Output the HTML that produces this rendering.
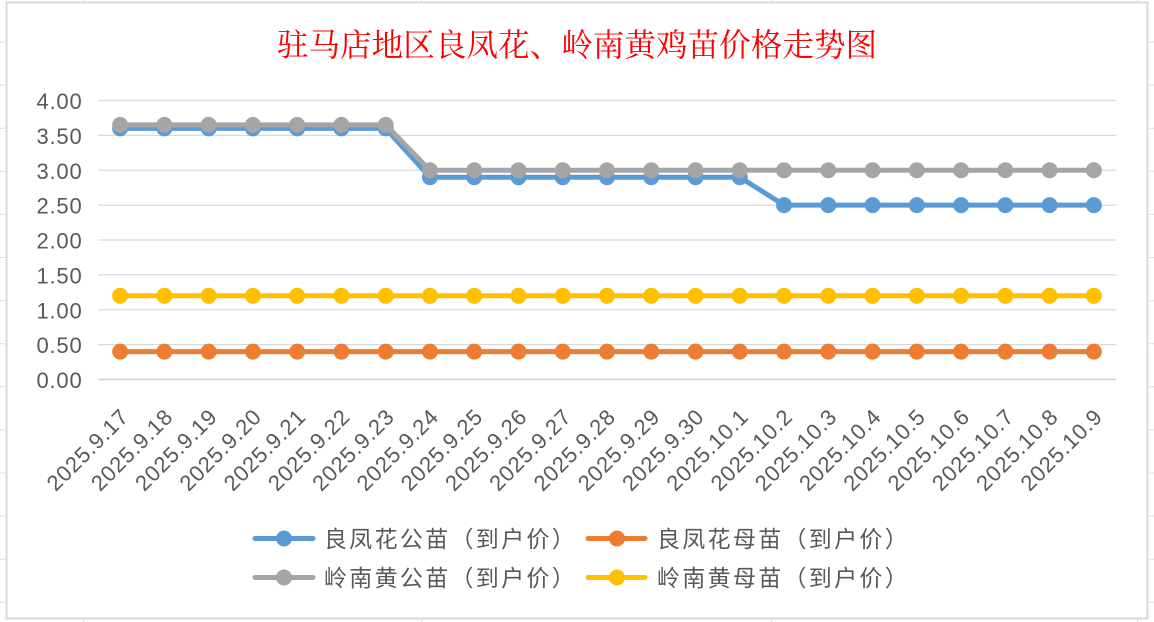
<!DOCTYPE html>
<html><head><meta charset="utf-8"><style>
html,body{margin:0;padding:0;background:#fff;}
svg{display:block;}
.ax{font-family:"Liberation Sans","Noto Sans CJK SC",sans-serif;font-size:22px;fill:#595959;letter-spacing:0.8px;}
.lg{font-family:"Liberation Sans","Noto Sans CJK SC",sans-serif;font-size:23px;fill:#595959;letter-spacing:2.3px;}
.tt{font-family:"Liberation Serif","Noto Serif CJK SC",serif;font-size:31.6px;fill:#FF0000;}
</style></head><body>
<svg width="1154" height="622" viewBox="0 0 1154 622" xmlns="http://www.w3.org/2000/svg">
<defs>
<marker id="mb" markerWidth="20" markerHeight="20" refX="10" refY="10" markerUnits="userSpaceOnUse"><circle cx="10" cy="10" r="8" fill="#5B9BD5"/></marker>
<marker id="mo" markerWidth="20" markerHeight="20" refX="10" refY="10" markerUnits="userSpaceOnUse"><circle cx="10" cy="10" r="8" fill="#ED7D31"/></marker>
<marker id="mg" markerWidth="20" markerHeight="20" refX="10" refY="10" markerUnits="userSpaceOnUse"><circle cx="10" cy="10" r="8" fill="#A5A5A5"/></marker>
<marker id="my" markerWidth="20" markerHeight="20" refX="10" refY="10" markerUnits="userSpaceOnUse"><circle cx="10" cy="10" r="8" fill="#FFC000"/></marker>
</defs>
<!-- spreadsheet grid remnants -->
<g stroke="#dedede" stroke-width="1">
<path d="M0 42H6M0 85.1H6M0 128.2H6M0 171.3H6M0 214.4H6M0 257.5H6M0 300.6H6M0 343.7H6M0 386.8H6M0 429.9H6M0 473H6M0 516.1H6M0 559.2H6M0 602.3H6"/>
<path d="M1149 42H1154M1149 85.1H1154M1149 128.2H1154M1149 171.3H1154M1149 214.4H1154M1149 257.5H1154M1149 300.6H1154M1149 343.7H1154M1149 386.8H1154M1149 429.9H1154M1149 473H1154M1149 516.1H1154M1149 559.2H1154M1149 602.3H1154"/>
<path d="M83.5 0V2M421.5 0V2M771.5 0V2M1137.5 0V2M83.5 620V622M421.5 620V622M771.5 620V622M1137.5 620V622"/>
</g>
<rect x="6.5" y="2.5" width="1141" height="616" fill="#fff" stroke="#d9d9d9" stroke-width="2"/>
<text class="tt" x="577" y="56" text-anchor="middle">驻马店地区良凤花、岭南黄鸡苗价格走势图</text>
<!-- gridlines -->
<g stroke="#d9d9d9" stroke-width="1.3">
<path d="M98 100.5H1116M98 135.4H1116M98 170.25H1116M98 205.1H1116M98 240H1116M98 274.9H1116M98 309.75H1116M98 344.6H1116"/>
</g>
<path d="M98 379.5H1116" stroke="#d0d0d0" stroke-width="1.6"/>
<!-- y labels -->
<g class="ax" text-anchor="end">
<text x="82.5" y="109">4.00</text>
<text x="82.5" y="143.9">3.50</text>
<text x="82.5" y="178.75">3.00</text>
<text x="82.5" y="213.6">2.50</text>
<text x="82.5" y="248.5">2.00</text>
<text x="82.5" y="283.4">1.50</text>
<text x="82.5" y="318.25">1.00</text>
<text x="82.5" y="353.1">0.50</text>
<text x="82.5" y="388">0.00</text>
</g>
<!-- x labels -->
<g class="ax" text-anchor="end">
<text transform="translate(130.1,418) rotate(-45)">2025.9.17</text>
<text transform="translate(174.4,418) rotate(-45)">2025.9.18</text>
<text transform="translate(218.6,418) rotate(-45)">2025.9.19</text>
<text transform="translate(262.9,418) rotate(-45)">2025.9.20</text>
<text transform="translate(307.2,418) rotate(-45)">2025.9.21</text>
<text transform="translate(351.4,418) rotate(-45)">2025.9.22</text>
<text transform="translate(395.7,418) rotate(-45)">2025.9.23</text>
<text transform="translate(440,418) rotate(-45)">2025.9.24</text>
<text transform="translate(484.2,418) rotate(-45)">2025.9.25</text>
<text transform="translate(528.5,418) rotate(-45)">2025.9.26</text>
<text transform="translate(572.7,418) rotate(-45)">2025.9.27</text>
<text transform="translate(617,418) rotate(-45)">2025.9.28</text>
<text transform="translate(661.3,418) rotate(-45)">2025.9.29</text>
<text transform="translate(705.5,418) rotate(-45)">2025.9.30</text>
<text transform="translate(749.8,418) rotate(-45)">2025.10.1</text>
<text transform="translate(794,418) rotate(-45)">2025.10.2</text>
<text transform="translate(838.3,418) rotate(-45)">2025.10.3</text>
<text transform="translate(882.6,418) rotate(-45)">2025.10.4</text>
<text transform="translate(926.8,418) rotate(-45)">2025.10.5</text>
<text transform="translate(971.1,418) rotate(-45)">2025.10.6</text>
<text transform="translate(1015.4,418) rotate(-45)">2025.10.7</text>
<text transform="translate(1059.6,418) rotate(-45)">2025.10.8</text>
<text transform="translate(1103.9,418) rotate(-45)">2025.10.9</text>
</g>
<!-- series -->
<g fill="none" stroke-width="5" stroke-linejoin="round">
<polyline stroke="#5B9BD5" marker-start="url(#mb)" marker-mid="url(#mb)" marker-end="url(#mb)" points="120.13,128.4 164.39,128.4 208.65,128.4 252.91,128.4 297.17,128.4 341.43,128.4 385.7,128.4 429.96,177.2 474.22,177.2 518.48,177.2 562.74,177.2 607,177.2 651.26,177.2 695.52,177.2 739.78,177.2 784.04,205.1 828.3,205.1 872.57,205.1 916.83,205.1 961.09,205.1 1005.35,205.1 1049.61,205.1 1093.87,205.1"/>
<polyline stroke="#ED7D31" marker-start="url(#mo)" marker-mid="url(#mo)" marker-end="url(#mo)" points="120.13,351.6 164.39,351.6 208.65,351.6 252.91,351.6 297.17,351.6 341.43,351.6 385.7,351.6 429.96,351.6 474.22,351.6 518.48,351.6 562.74,351.6 607,351.6 651.26,351.6 695.52,351.6 739.78,351.6 784.04,351.6 828.3,351.6 872.57,351.6 916.83,351.6 961.09,351.6 1005.35,351.6 1049.61,351.6 1093.87,351.6"/>
<polyline stroke="#A5A5A5" marker-start="url(#mg)" marker-mid="url(#mg)" marker-end="url(#mg)" points="120.13,124.9 164.39,124.9 208.65,124.9 252.91,124.9 297.17,124.9 341.43,124.9 385.7,124.9 429.96,170.25 474.22,170.25 518.48,170.25 562.74,170.25 607,170.25 651.26,170.25 695.52,170.25 739.78,170.25 784.04,170.25 828.3,170.25 872.57,170.25 916.83,170.25 961.09,170.25 1005.35,170.25 1049.61,170.25 1093.87,170.25"/>
<polyline stroke="#FFC000" marker-start="url(#my)" marker-mid="url(#my)" marker-end="url(#my)" points="120.13,295.8 164.39,295.8 208.65,295.8 252.91,295.8 297.17,295.8 341.43,295.8 385.7,295.8 429.96,295.8 474.22,295.8 518.48,295.8 562.74,295.8 607,295.8 651.26,295.8 695.52,295.8 739.78,295.8 784.04,295.8 828.3,295.8 872.57,295.8 916.83,295.8 961.09,295.8 1005.35,295.8 1049.61,295.8 1093.87,295.8"/>
</g>
<!-- legend -->
<g stroke-width="5" stroke-linecap="round">
<line x1="255" y1="538.5" x2="313" y2="538.5" stroke="#5B9BD5"/>
<line x1="588" y1="538.5" x2="645" y2="538.5" stroke="#ED7D31"/>
<line x1="255" y1="577.5" x2="313" y2="577.5" stroke="#A5A5A5"/>
<line x1="588" y1="577.5" x2="645" y2="577.5" stroke="#FFC000"/>
</g>
<circle cx="284" cy="538.5" r="8" fill="#5B9BD5"/>
<circle cx="617" cy="538.5" r="8" fill="#ED7D31"/>
<circle cx="284" cy="577.5" r="8" fill="#A5A5A5"/>
<circle cx="617" cy="577.5" r="8" fill="#FFC000"/>
<g class="lg">
<text x="324" y="547">良凤花公苗（到户价）</text>
<text x="657" y="547">良凤花母苗（到户价）</text>
<text x="324" y="586">岭南黄公苗（到户价）</text>
<text x="657" y="586">岭南黄母苗（到户价）</text>
</g>
</svg>
</body></html>
